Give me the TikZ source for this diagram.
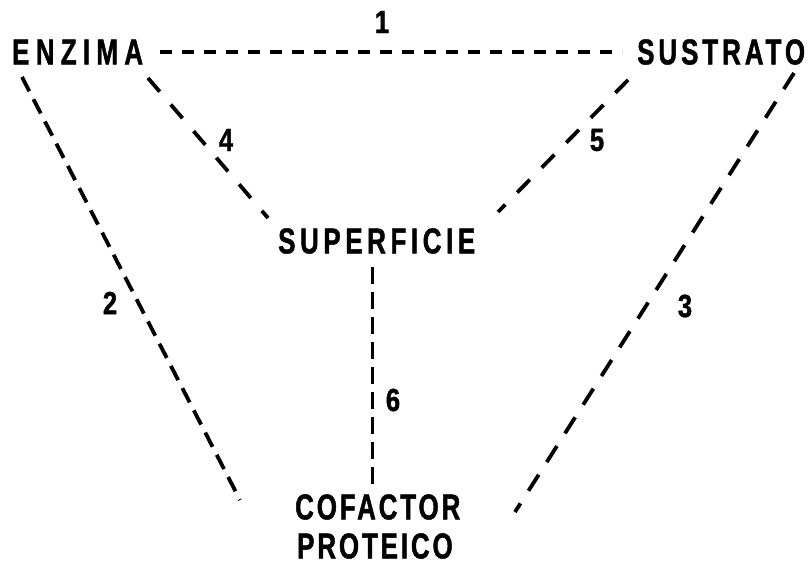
\documentclass[tikz,border=0pt]{standalone}
\usepackage{fontspec}
\newfontfamily\labfont[FakeStretch=0.72,LetterSpace=12.8,FakeBold=1.2]{Liberation Sans}
\newfontfamily\numfont[FakeStretch=0.8,FakeBold=1.2]{Liberation Sans}
\begin{document}
\begin{tikzpicture}[x=1pt,y=-1pt,
  term/.style={inner sep=0pt, anchor=west, font=\labfont\bfseries\fontsize{36}{40}\selectfont},
  num/.style={inner sep=0pt, font=\numfont\bfseries\fontsize{32}{34}\selectfont},
  link/.style={line width=3.8pt},
  link1/.style={link, line width=3.3pt, dash pattern=on 12pt off 10pt},
  link2/.style={link, dash pattern=on 16pt off 9pt},
  link3/.style={link, dash pattern=on 19pt off 15pt},
  link45/.style={link, dash pattern=on 18pt off 17pt},
  link6/.style={link, line width=3pt, dash pattern=on 17pt off 8pt}]
\useasboundingbox (0,0) rectangle (810,567);
% terms
\node[term, font=\labfont\addfontfeature{LetterSpace=17.5}\bfseries\fontsize{36}{40}\selectfont] (enz) at (12,52) {ENZIMA};
\node[term, font=\labfont\addfontfeature{LetterSpace=11}\bfseries\fontsize{36}{40}\selectfont] (sus) at (637,52) {SUSTRATO};
\node[term] (sup) at (278,241) {SUPERFICIE};
\node[term, font=\labfont\addfontfeature{LetterSpace=8}\bfseries\fontsize{36}{40}\selectfont] (cof) at (295,507) {COFACTOR};
\node[term, font=\labfont\addfontfeature{LetterSpace=8}\bfseries\fontsize{36}{40}\selectfont] (pro) at (297,546) {PROTEICO};
% connector ends
\coordinate (a1) at (160,52);  \coordinate (b1) at (622,52);
\coordinate (a2) at (22,77);   \coordinate (b2) at (240,500);
\coordinate (a4) at (148,78);  \coordinate (b4) at (268,218);
\coordinate (a5) at (628,80);  \coordinate (b5) at (498,212);
\coordinate (a3) at (794,73);  \coordinate (b3) at (515,512);
\coordinate (a6) at (372,267); \coordinate (b6) at (372,487);
% connectors
\draw[link1] (a1) -- (b1);
\draw[link2] (a2) -- (b2);
\draw[link45] (a4) -- (b4);
\draw[link45] (a5) -- (b5);
\draw[link3] (a3) -- (b3);
\draw[link6] (a6) -- (b6);
% labels
\node[num] (n1) at (382,22) {1};
\node[num] (n2) at (110,303) {2};
\node[num] (n3) at (685,306) {3};
\node[num] (n4) at (226,140) {4};
\node[num] (n5) at (597,140) {5};
\node[num] (n6) at (393,400) {6};
\end{tikzpicture}
\end{document}
